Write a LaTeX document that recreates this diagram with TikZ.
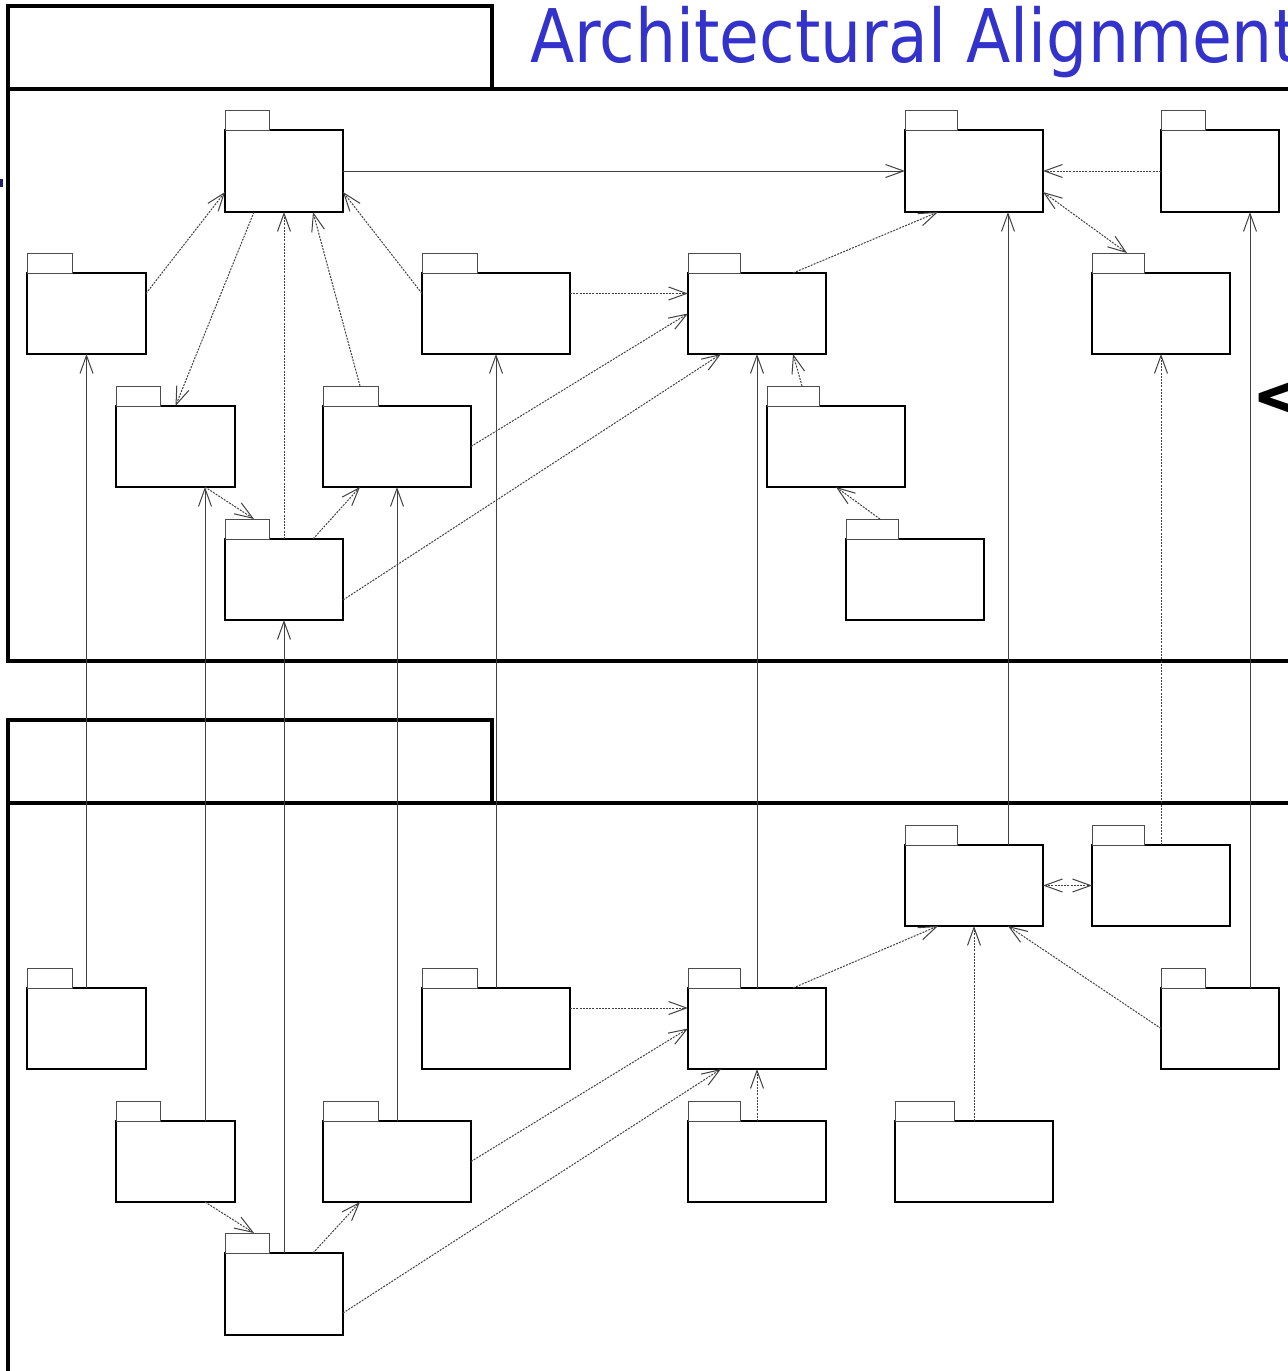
\documentclass[tikz,border=0pt]{standalone}
\usepackage{fontspec}
\newfontfamily\titlefont[FakeStretch=0.875]{DejaVu Sans}
\newfontfamily\symfont{DejaVu Sans}
\usetikzlibrary{arrows.meta}
\definecolor{titleblue}{RGB}{51,51,204}
\definecolor{navy}{RGB}{30,30,110}
\tikzset{
  pkgbody/.style={draw=black, line width=0.8pt, fill=white, rectangle, inner sep=0pt, outer sep=0pt, anchor=north west},
  pkgtab/.style={draw=black!70, line width=0.5pt, fill=white, rectangle, inner sep=0pt, outer sep=0pt, anchor=south west, minimum height=10pt},
  frameline/.style={line width=1.6pt, draw=black},
  conn/.style={line width=0.5pt, draw=black!75, ->},
  dep/.style={conn, dash pattern=on 1pt off 0.6pt},
  bidep/.style={dep, <->},
}
\newcommand\mkpkg[6]{%
  \node[pkgbody, minimum width=#4*0.5pt, minimum height=#5*0.5pt] (#1) at (#2,#3) {};
  \node[pkgtab, minimum width=#6*0.5pt] (#1t) at (#1.north west) {};
}
\begin{document}
\begin{tikzpicture}[x=0.5pt, y=-0.5pt, >={Straight Barb[length=9pt,width=6.5pt,line width=0.5pt]}]
\useasboundingbox (0,0) rectangle (1287,1371);
% frames
\draw[frameline] (8,89) -- (8,6) -- (492,6) -- (492,89);
\draw[frameline] (1295,89) -- (8,89) -- (8,661) -- (1295,661);
\draw[frameline] (8,803) -- (8,720) -- (492,720) -- (492,803);
\draw[frameline] (1295,803) -- (8,803) -- (8,1380);
% title and marks
\node[anchor=base west, text=titleblue, font=\titlefont\fontsize{37}{40}\selectfont, inner sep=0pt] (title) at (530,62) {Architectural Alignment};
\fill[navy] (0,179) rectangle (2.5,187);
\node[anchor=west, font=\symfont\bfseries\fontsize{36}{36}\selectfont, inner sep=0pt] (lt) at (1251,399) {<};
% top packages
\mkpkg{P1}{225}{130}{118}{82}{44}
\mkpkg{P2}{905}{130}{138}{82}{52}
\mkpkg{P3}{1161}{130}{118}{82}{44}
\mkpkg{P4}{27}{273}{119}{81}{45}
\mkpkg{P5}{422}{273}{148}{81}{55}
\mkpkg{P6}{688}{273}{138}{81}{52}
\mkpkg{P7}{1092}{273}{138}{81}{52}
\mkpkg{P8}{116}{406}{119}{81}{44}
\mkpkg{P9}{323}{406}{148}{81}{55}
\mkpkg{P10}{767}{406}{138}{81}{52}
\mkpkg{P11}{225}{539}{118}{81}{44}
\mkpkg{P12}{846}{539}{138}{81}{52}
% bottom packages
\mkpkg{Q2}{905}{845}{138}{81}{52}
\mkpkg{Q7}{1092}{845}{138}{81}{52}
\mkpkg{Q4}{27}{988}{119}{81}{45}
\mkpkg{Q5}{422}{988}{148}{81}{55}
\mkpkg{Q6}{688}{988}{138}{81}{52}
\mkpkg{Q3}{1161}{988}{118}{81}{44}
\mkpkg{Q8}{116}{1121}{119}{81}{44}
\mkpkg{Q9}{323}{1121}{148}{81}{55}
\mkpkg{Q10}{688}{1121}{138}{81}{52}
\mkpkg{Q12}{895}{1121}{158}{81}{59}
\mkpkg{Q11}{225}{1253}{118}{82}{44}
% top connectors
\draw[conn] (P1.east) -- (P2.west);
\draw[dep] (P3.west) -- (P2.east);
\draw[bidep] ([yshift=-10.5pt]P2.east) -- ([xshift=4.5pt]P7t.north);
\draw[dep] ([xshift=18pt]P6.north) -- ([xshift=-18pt]P2.south);
\draw[dep] ([yshift=10pt]P4.east) -- ([yshift=-10.5pt]P1.west);
\draw[dep] ([xshift=-15pt]P1.south) -- (P8.north);
\draw[dep] (P11.north) -- (P1.south);
\draw[dep] ([xshift=4.75pt]P9t.north) -- ([xshift=14.5pt]P1.south);
\draw[dep] ([yshift=10pt]P5.west) -- ([yshift=-10.5pt]P1.east);
\draw[dep] ([yshift=10pt]P5.east) -- ([yshift=10pt]P6.west);
\draw[dep] (P9.east) -- (P6.west);
\draw[dep] ([yshift=-10.25pt]P11.east) -- ([xshift=-18pt]P6.south);
\draw[dep] ([xshift=4.5pt]P10t.north) -- ([xshift=18pt]P6.south);
\draw[dep] ([xshift=14.75pt]P8.south) -- ([xshift=3.5pt]P11t.north);
\draw[dep] ([xshift=14.5pt]P11.north) -- ([xshift=-18.5pt]P9.south);
\draw[dep] ([xshift=4pt]P12t.north) -- (P10.south);
% cross connectors
\draw[conn] (Q4.north) -- (P4.south);
\draw[conn] ([xshift=14.75pt]Q8.north) -- ([xshift=14.75pt]P8.south);
\draw[conn] (Q11.north) -- (P11.south);
\draw[conn] (Q9.north) -- (P9.south);
\draw[conn] (Q5.north) -- (P5.south);
\draw[conn] (Q6.north) -- (P6.south);
\draw[conn] ([xshift=17pt]Q2.north) -- ([xshift=17pt]P2.south);
\draw[dep] (Q7.north) -- (P7.south);
\draw[conn] ([xshift=15pt]Q3.north) -- ([xshift=15pt]P3.south);
% bottom connectors
\draw[bidep] (Q2.east) -- (Q7.west);
\draw[dep] ([xshift=18pt]Q6.north) -- ([xshift=-18pt]Q2.south);
\draw[dep] (Q12.north) -- (Q2.south);
\draw[dep] (Q3.west) -- ([xshift=17pt]Q2.south);
\draw[dep] ([yshift=10.25pt]Q5.east) -- ([yshift=10.25pt]Q6.west);
\draw[dep] (Q9.east) -- (Q6.west);
\draw[dep] ([yshift=-9.5pt]Q11.east) -- ([xshift=-18pt]Q6.south);
\draw[dep] (Q10.north) -- (Q6.south);
\draw[dep] ([xshift=14.75pt]Q8.south) -- ([xshift=3.5pt]Q11t.north);
\draw[dep] ([xshift=14.5pt]Q11.north) -- ([xshift=-18.5pt]Q9.south);
\end{tikzpicture}
\end{document}
